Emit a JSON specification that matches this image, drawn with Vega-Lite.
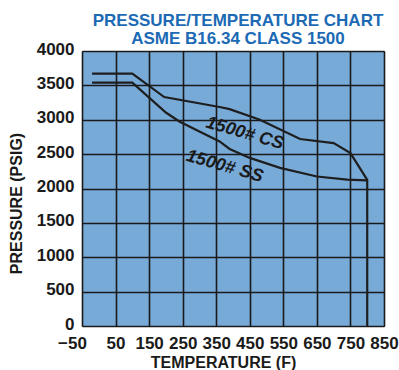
{
  "$schema": "https://vega.github.io/schema/vega-lite/v6.json",
  "width": 302,
  "height": 275,
  "autosize": {"type": "none"},
  "padding": {"left": 82, "top": 51, "right": 15, "bottom": 44},
  "background": "white",
  "title": {
    "text": ["PRESSURE/TEMPERATURE CHART", "ASME B16.34 CLASS 1500"],
    "font": "Liberation Sans",
    "fontSize": 17,
    "fontWeight": "bold",
    "color": "#1c6ab4",
    "anchor": "middle",
    "frame": "group",
    "lineHeight": 18,
    "offset": -8,
    "dx": 5
  },
  "config": {
    "view": {"fill": "#78aad8", "stroke": "#333333", "strokeWidth": 1}
  },
  "datasets": {
    "curves": [
      {"series": "CS", "temp": -20, "pressure": 3670},
      {"series": "CS", "temp": 100, "pressure": 3670},
      {"series": "CS", "temp": 195, "pressure": 3330},
      {"series": "CS", "temp": 360, "pressure": 3185},
      {"series": "CS", "temp": 390, "pressure": 3155},
      {"series": "CS", "temp": 480, "pressure": 3000},
      {"series": "CS", "temp": 600, "pressure": 2720},
      {"series": "CS", "temp": 700, "pressure": 2660},
      {"series": "CS", "temp": 750, "pressure": 2515},
      {"series": "CS", "temp": 800, "pressure": 2125},
      {"series": "CS", "temp": 800, "pressure": 0},
      {"series": "SS", "temp": -20, "pressure": 3540},
      {"series": "SS", "temp": 100, "pressure": 3540},
      {"series": "SS", "temp": 200, "pressure": 3105},
      {"series": "SS", "temp": 240, "pressure": 2975},
      {"series": "SS", "temp": 360, "pressure": 2685},
      {"series": "SS", "temp": 390, "pressure": 2575},
      {"series": "SS", "temp": 450, "pressure": 2445},
      {"series": "SS", "temp": 540, "pressure": 2300},
      {"series": "SS", "temp": 650, "pressure": 2175},
      {"series": "SS", "temp": 740, "pressure": 2128},
      {"series": "SS", "temp": 800, "pressure": 2118}
    ],
    "labels": [
      {"label": "1500# CS", "temp": 435, "pressure": 2800},
      {"label": "1500# SS", "temp": 375, "pressure": 2320}
    ]
  },
  "encoding": {
    "x": {
      "field": "temp",
      "type": "quantitative",
      "scale": {"domain": [-50, 850], "nice": false, "zero": false},
      "axis": {
        "values": [-50, 50, 150, 250, 350, 450, 550, 650, 750, 850],
        "format": "d",
        "title": "TEMPERATURE (F)",
        "titleFont": "Liberation Sans",
        "titleFontSize": 16,
        "titleFontWeight": "bold",
        "titleColor": "#1a1a1a",
        "titleX": 141,
        "titleY": 36,
        "titleBaseline": "middle",
        "titleAlign": "center",
        "labelFont": "Liberation Sans",
        "labelFontSize": 17,
        "labelFontWeight": "bold",
        "labelColor": "#1a1a1a",
        "labelPadding": 9,
        "labelOffset": {"condition": {"test": "datum.value == -50", "value": -10}, "value": 0},
        "labelFlush": false,
        "labelOverlap": false,
        "ticks": false,
        "domain": false,
        "grid": true,
        "gridColor": "#1a1a1a",
        "gridWidth": 1.6,
        "gridOpacity": 1
      }
    },
    "y": {
      "field": "pressure",
      "type": "quantitative",
      "scale": {"domain": [0, 4000], "nice": false},
      "axis": {
        "values": [0, 500, 1000, 1500, 2000, 2500, 3000, 3500, 4000],
        "format": "d",
        "title": "PRESSURE (PSIG)",
        "titleFont": "Liberation Sans",
        "titleFontSize": 16,
        "titleFontWeight": "bold",
        "titleColor": "#1a1a1a",
        "titleX": -66,
        "titleY": 152,
        "titleAngle": -90,
        "titleBaseline": "middle",
        "titleAlign": "center",
        "labelFont": "Liberation Sans",
        "labelFontSize": 17,
        "labelFontWeight": "bold",
        "labelColor": "#1a1a1a",
        "labelPadding": 8,
        "labelFlush": false,
        "labelOverlap": false,
        "labelOffset": -2,
        "ticks": false,
        "domain": false,
        "grid": true,
        "gridColor": "#1a1a1a",
        "gridWidth": 1.6,
        "gridOpacity": 1
      }
    }
  },
  "layer": [
    {
      "data": {"name": "curves"},
      "mark": {"type": "line", "color": "#1e1e1e", "strokeWidth": 2.2},
      "encoding": {
        "detail": {"field": "series"}
      }
    },
    {
      "data": {"name": "labels"},
      "mark": {
        "type": "text",
        "font": "Liberation Sans",
        "fontSize": 18,
        "fontWeight": "bold",
        "fontStyle": "italic",
        "color": "#1a1a1a",
        "angle": 16,
        "align": "center",
        "baseline": "middle"
      },
      "encoding": {
        "text": {"field": "label"}
      }
    }
  ]
}
